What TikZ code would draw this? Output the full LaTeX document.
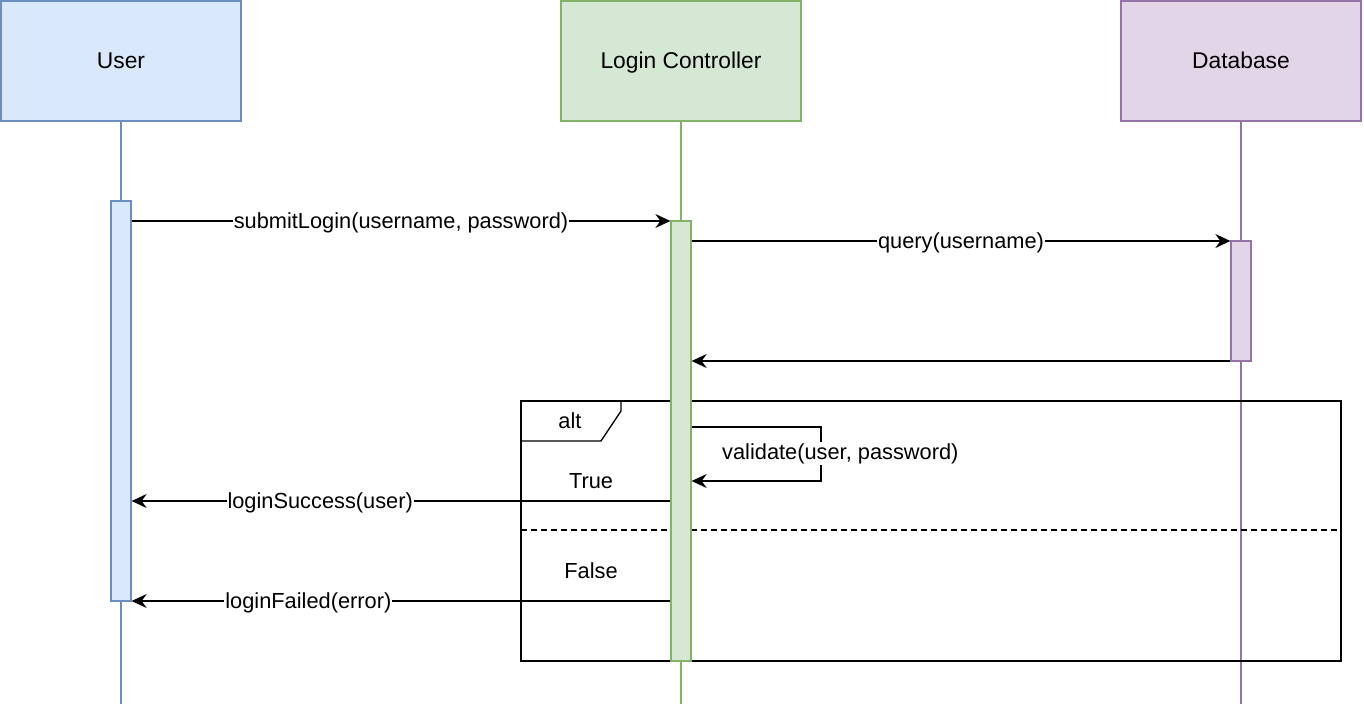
\documentclass[tikz,border=0pt]{standalone}
\usepackage{fontspec}
\setmainfont{Liberation Sans}
\usetikzlibrary{arrows.meta,calc}
\definecolor{bfill}{HTML}{DAE8FC}\definecolor{bdraw}{HTML}{6C8EBF}
\definecolor{gfill}{HTML}{D5E8D4}\definecolor{gdraw}{HTML}{82B366}
\definecolor{pfill}{HTML}{E1D5E7}\definecolor{pdraw}{HTML}{9673A6}
\tikzset{
  hdr/.style={draw=#1draw,fill=#1fill,line width=1.3pt,minimum width=240pt,minimum height=120pt,inner sep=0pt,text height=20pt,text depth=5pt,font=\fontsize{22.8}{26}\selectfont},
  act/.style={draw=#1draw,fill=#1fill,line width=1.3pt,minimum width=20pt,inner sep=0pt},
  life/.style={draw=#1draw,line width=1.3pt},
  msg/.style={line width=1.3pt,-{Stealth[length=15pt,width=14pt,inset=5pt]}},
  lbl/.style={fill=white,inner sep=1pt,yshift=-1.5pt,font=\fontsize{21.8}{26}\selectfont},
  txt/.style={inner sep=0pt,font=\fontsize{21.8}{26}\selectfont},
  frame/.style={line width=1.3pt}
}
\begin{document}
\begin{tikzpicture}[x=1pt,y=-1pt]
\useasboundingbox (0,0) rectangle (1364,704);
% headers
\node[hdr=b] (user) at (121,61) {User};
\node[hdr=g] (ctrl) at (681,61) {Login Controller};
\node[hdr=p] (db) at (1241,61) {Database};
% lifelines
\coordinate (uend) at (121,704);
\coordinate (cend) at (681,704);
\coordinate (dend) at (1241,704);
\draw[life=b] (user.south) -- (uend);
\draw[life=g] (ctrl.south) -- (cend);
\draw[life=p] (db.south) -- (dend);
% alt frame
\coordinate (f1) at (521,401);
\coordinate (f2) at (1341,661);
\draw[frame] (f1) rectangle (f2);
\coordinate (t1) at (621,401);
\coordinate (t2) at (621,411);
\coordinate (t3) at (601,441);
\coordinate (t4) at (521,441);
\draw[frame] (t1) -- (t2) -- (t3) -- (t4);
\node[txt] (alt) at (570,421) {alt};
\coordinate (d1) at (521,530);
\coordinate (d2) at (1341,530);
\draw[line width=1.3pt,dash pattern=on 6pt off 4pt] (d1) -- (d2);
\node[txt] (true) at (591,481) {True};
\node[txt] (false) at (591,571) {False};
% activations
\node[act=b,minimum height=400pt] (ua) at (121,401) {};
\node[act=g,minimum height=440pt] (ca) at (681,441) {};
\node[act=p,minimum height=120pt] (da) at (1241,301) {};
% messages
\draw[msg] (ua.east |- 0,221) -- node[lbl,pos=0.5] {submitLogin(username, password)} (ca.west |- 0,221);
\draw[msg] (ca.east |- 0,241) -- node[lbl,pos=0.5] {query(username)} (da.west |- 0,241);
\draw[msg] (da.west |- 0,361) -- (ca.east |- 0,361);
\coordinate (s1) at (821,427);
\coordinate (s2) at (821,481);
\draw[msg] (ca.east |- 0,427) -- (s1) -- (s2) -- (ca.east |- 0,481);
\node[lbl,anchor=west] (vl) at (721,452) {validate(user, password)};
\draw[msg] (ca.west |- 0,501) -- node[lbl,pos=0.65] {loginSuccess(user)} (ua.east |- 0,501);
\draw[msg] (ca.west |- 0,601) -- node[lbl,pos=0.672] {loginFailed(error)} (ua.east |- 0,601);
\end{tikzpicture}
\end{document}
